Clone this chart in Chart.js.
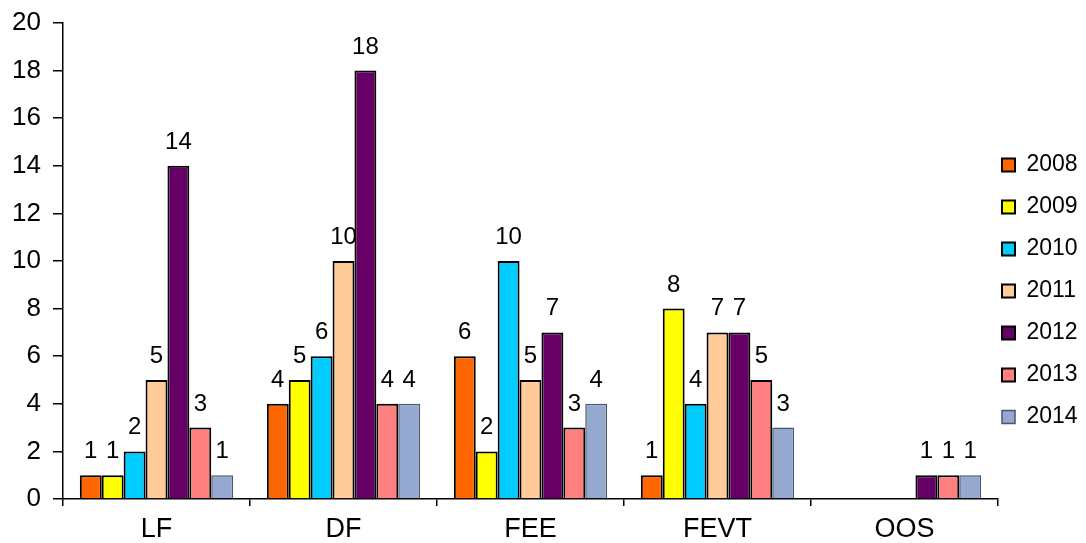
<!DOCTYPE html>
<html>
<head>
<meta charset="utf-8">
<script src="https://cdn.jsdelivr.net/npm/chart.js@4/dist/chart.umd.min.js"></script>
<style>
  html, body { margin: 0; padding: 0; background: #fff; }
  #wrap { width: 1086px; height: 543px; position: relative; }
</style>
</head>
<body>
<div id="wrap"><canvas id="chart"></canvas></div>
<script>
// categories and yearly counts
const categories = ["LF", "DF", "FEE", "FEVT", "OOS"];
const years = ["2008", "2009", "2010", "2011", "2012", "2013", "2014"];
const v2008 = [1, 4, 6, 1, 0];
const v2009 = [1, 5, 2, 8, 0];
const v2010 = [2, 6, 10, 4, 0];
const v2011 = [5, 10, 5, 7, 0];
const v2012 = [14, 18, 7, 7, 1];
const v2013 = [3, 4, 3, 5, 1];
const v2014 = [1, 4, 4, 3, 1];
const yTicks = [0, 2, 4, 6, 8, 10, 12, 14, 16, 18, 20];

const fills = ["#FF6600", "#FFFF00", "#00CCFF", "#FFCC99", "#660066", "#FF8080", "#95A8D0"];
const edges = ["#000", "#000", "#000", "#000", "#000", "#000", "#4a566b"];
const series = [v2008, v2009, v2010, v2011, v2012, v2013, v2014];

const FONT = "'Liberation Sans', Arial, sans-serif";

// numbers above each bar (zeros left blank)
const valueLabels = {
  id: "valueLabels",
  afterDatasetsDraw(chart) {
    const ctx = chart.ctx;
    ctx.save();
    ctx.font = "24px " + FONT;
    ctx.fillStyle = "#000";
    ctx.textAlign = "center";
    ctx.textBaseline = "alphabetic";
    chart.data.datasets.forEach((ds, i) => {
      chart.getDatasetMeta(i).data.forEach((bar, j) => {
        const v = ds.data[j];
        if (!v) return;
        ctx.fillText(String(v), bar.x, bar.y - 17);
      });
    });
    ctx.restore();
  }
};

// pull the legend column closer to the plot and a little lower
const legendNudge = {
  id: "legendNudge",
  afterLayout(chart) {
    const lg = chart.legend;
    if (!lg) return;
    lg.left -= 15;
    lg.top += 8;
    lg.bottom += 8;
  }
};

new Chart(document.getElementById("chart"), {
  type: "bar",
  data: {
    labels: categories,
    datasets: years.map((y, i) => ({
      label: y,
      data: series[i],
      backgroundColor: fills[i],
      borderColor: edges[i],
      borderWidth: i === 6 ? 1.5 : 2,
      categoryPercentage: 0.82,
      barPercentage: 1
    }))
  },
  options: {
    responsive: true,
    maintainAspectRatio: false,
    animation: false,
    layout: { padding: { top: 23, right: 0, bottom: 0, left: 0 } },
    scales: {
      x: {
        afterFit(scale) { scale.height = 44; },
        grid: { display: true, drawOnChartArea: false, drawTicks: true, tickLength: 7, color: "#000", lineWidth: 1.5 },
        border: { display: true, color: "#000", width: 1.5 },
        ticks: { color: "#000", font: { family: FONT, size: 27, lineHeight: 1.0 }, padding: 10 }
      },
      y: {
        min: 0,
        max: 20,
        afterBuildTicks(scale) { scale.ticks = yTicks.map(v => ({ value: v })); },
        afterFit(scale) { scale.width = 63; },
        grid: { display: true, drawOnChartArea: false, drawTicks: true, tickLength: 10, color: "#000", lineWidth: 1.5 },
        border: { display: true, color: "#000", width: 1.5 },
        ticks: { color: "#000", font: { family: FONT, size: 26, lineHeight: 0.8 }, padding: 12 }
      }
    },
    plugins: {
      legend: {
        position: "right",
        align: "center",
        maxWidth: 88,
        labels: {
          color: "#000",
          boxWidth: 13,
          boxHeight: 13,
          padding: 19,
          font: { family: FONT, size: 23 }
        }
      },
      tooltip: { enabled: false }
    }
  },
  plugins: [valueLabels, legendNudge]
});
</script>
</body>
</html>
